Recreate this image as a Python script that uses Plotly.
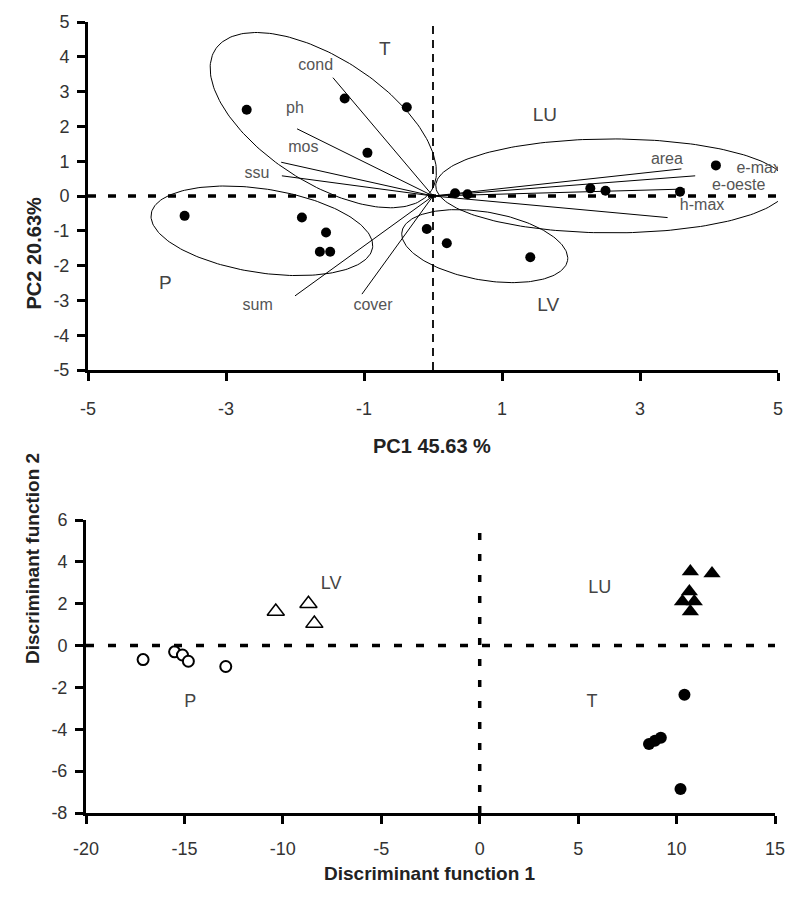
import numpy as np
import plotly.graph_objects as go

# ---------------- PCA (top) data ----------------
pca_T_x = [-2.7, -1.28, -0.95, -0.38]
pca_T_y = [2.48, 2.8, 1.24, 2.55]
pca_P_x = [-3.6, -1.9, -1.55, -1.64, -1.49]
pca_P_y = [-0.57, -0.62, -1.05, -1.6, -1.6]
pca_LV_x = [-0.09, 0.2, 1.41]
pca_LV_y = [-0.95, -1.36, -1.76]
pca_LU_x = [0.32, 0.5, 2.28, 2.5, 3.58, 4.1]
pca_LU_y = [0.08, 0.05, 0.22, 0.15, 0.12, 0.88]

load_names = ["cond", "ph", "mos", "ssu", "sum", "cover", "area", "e-max", "e-oeste", "h-max"]
load_x = [-1.45, -1.97, -2.2, -2.19, -2.0, -1.03, 3.6, 3.8, 3.65, 3.4]
load_y = [3.4, 1.93, 0.97, 0.58, -2.87, -2.82, 0.78, 0.58, 0.2, -0.62]
load_lab_x = [-1.7, -2.0, -1.88, -2.55, -2.54, -0.87, 3.39, 4.72, 4.43, 3.9]
load_lab_y = [3.74, 2.5, 1.38, 0.63, -3.16, -3.16, 1.03, 0.78, 0.29, -0.29]

group_names = ["T", "LU", "P", "LV"]
group_lab_x = [-0.7, 1.62, -3.88, 1.67]
group_lab_y = [4.18, 2.3, -2.53, -3.16]

# ellipses: center, two conjugate semi-axis vectors (data units)
ell_centers = [(-1.59, 2.18), (2.59, 0.29), (-2.48, -1.0), (0.75, -1.44)]
ell_u = [(1.565, -2.03), (2.55, 0.0), (1.604, -0.49), (1.2, -0.417)]
ell_v = [(-0.49, -1.49), (0.0, 1.35), (-0.093, -1.19), (-0.085, -0.963)]

pca_x_ticks = [-5, -3, -1, 1, 3, 5]
pca_y_ticks = [-5, -4, -3, -2, -1, 0, 1, 2, 3, 4, 5]

# ---------------- Discriminant (bottom) data ----------------
da_P_x = [-17.1, -15.5, -15.1, -14.8, -12.9]
da_P_y = [-0.67, -0.3, -0.45, -0.75, -1.0]
da_LV_x = [-10.36, -8.7, -8.4]
da_LV_y = [1.63, 2.0, 1.05]
da_LU_x = [10.7, 11.8, 10.65, 10.3, 10.9, 10.7]
da_LU_y = [3.54, 3.44, 2.58, 2.1, 2.1, 1.63]
da_T_x = [10.4, 8.6, 8.9, 9.2, 10.2]
da_T_y = [-2.35, -4.7, -4.55, -4.4, -6.85]

da_group_names = ["LV", "LU", "P", "T"]
da_group_x = [-7.55, 6.1, -14.7, 5.7]
da_group_y = [2.92, 2.73, -2.7, -2.73]

da_x_ticks = [-20, -15, -10, -5, 0, 5, 10, 15]
da_y_ticks = [-8, -6, -4, -2, 0, 2, 4, 6]

FONT = "Liberation Sans, Arial, sans-serif"

fig = go.Figure()

# loading lines
for nx, ny in zip(load_x, load_y):
    fig.add_trace(go.Scatter(x=[0, nx], y=[0, ny], mode="lines",
                             line=dict(color="black", width=1),
                             xaxis="x", yaxis="y", hoverinfo="skip"))

# ellipses
t = np.linspace(0, 2 * np.pi, 200)
for (cx, cy), (ux, uy), (vx, vy) in zip(ell_centers, ell_u, ell_v):
    ex = cx + ux * np.cos(t) + vx * np.sin(t)
    ey = cy + uy * np.cos(t) + vy * np.sin(t)
    fig.add_trace(go.Scatter(x=ex, y=ey, mode="lines",
                             line=dict(color="black", width=1),
                             xaxis="x", yaxis="y", hoverinfo="skip"))

# PCA points
for xs, ys in [(pca_T_x, pca_T_y), (pca_P_x, pca_P_y), (pca_LV_x, pca_LV_y), (pca_LU_x, pca_LU_y)]:
    fig.add_trace(go.Scatter(x=xs, y=ys, mode="markers",
                             marker=dict(color="black", size=10, symbol="circle"),
                             xaxis="x", yaxis="y"))

# loading labels
fig.add_trace(go.Scatter(x=load_lab_x, y=load_lab_y, mode="text", text=load_names,
                         textfont=dict(family=FONT, size=16, color="#555555"),
                         xaxis="x", yaxis="y"))
# group labels top
fig.add_trace(go.Scatter(x=group_lab_x, y=group_lab_y, mode="text", text=group_names,
                         textfont=dict(family=FONT, size=19, color="#444444"),
                         xaxis="x", yaxis="y"))

# DA points
fig.add_trace(go.Scatter(x=da_P_x, y=da_P_y, mode="markers",
                         marker=dict(color="white", size=11, symbol="circle",
                                     line=dict(color="black", width=2)),
                         xaxis="x2", yaxis="y2"))
fig.add_trace(go.Scatter(x=da_LV_x, y=da_LV_y, mode="markers",
                         marker=dict(color="white", size=15, symbol="triangle-up",
                                     line=dict(color="black", width=1.5)),
                         xaxis="x2", yaxis="y2"))
fig.add_trace(go.Scatter(x=da_LU_x, y=da_LU_y, mode="markers",
                         marker=dict(color="black", size=15, symbol="triangle-up"),
                         xaxis="x2", yaxis="y2"))
fig.add_trace(go.Scatter(x=da_T_x, y=da_T_y, mode="markers",
                         marker=dict(color="black", size=12, symbol="circle"),
                         xaxis="x2", yaxis="y2"))
fig.add_trace(go.Scatter(x=da_group_x, y=da_group_y, mode="text", text=da_group_names,
                         textfont=dict(family=FONT, size=18, color="#444444"),
                         xaxis="x2", yaxis="y2"))

# reference dashed lines
shapes = [
    dict(type="line", xref="x", yref="y", x0=-5, x1=5, y0=0, y1=0,
         line=dict(color="black", width=3.5, dash="8px,12px")),
    dict(type="line", xref="x", yref="y", x0=0, x1=0, y0=-5, y1=5,
         line=dict(color="black", width=1.8, dash="8px,6px")),
    dict(type="line", xref="x2", yref="y2", x0=-20, x1=15, y0=0, y1=0,
         line=dict(color="black", width=3.5, dash="8px,14px")),
    dict(type="line", xref="x2", yref="y2", x0=0, x1=0, y0=-8, y1=6,
         line=dict(color="black", width=3.5, dash="7px,14px")),
]

axis_common = dict(showline=True, linecolor="black", linewidth=3, ticks="outside",
                   ticklen=8, tickwidth=3, tickcolor="black", showgrid=False,
                   zeroline=False, automargin=False,
                   tickfont=dict(family=FONT, size=18, color="#333333"))


def lbl(vals):
    return [str(v) for v in vals]


fig.update_layout(
    width=789, height=897,
    margin=dict(l=0, r=0, t=0, b=0, autoexpand=False),
    paper_bgcolor="white", plot_bgcolor="white",
    showlegend=False,
    shapes=shapes,
    xaxis=dict(domain=[88 / 789, 778 / 789], range=[-5, 5], tickvals=pca_x_ticks,
               ticktext=lbl(pca_x_ticks), anchor="y", ticklabelstandoff=12, **axis_common),
    yaxis=dict(domain=[1 - 370 / 897, 1 - 22 / 897], range=[-5, 5], tickvals=pca_y_ticks,
               ticktext=lbl(pca_y_ticks), anchor="x", ticklabelstandoff=4, **axis_common),
    xaxis2=dict(domain=[86 / 789, 775 / 789], range=[-20, 15], tickvals=da_x_ticks,
                ticktext=lbl(da_x_ticks), anchor="y2", ticklabelstandoff=9, **axis_common),
    yaxis2=dict(domain=[1 - 813 / 897, 1 - 520 / 897], range=[-8, 6], tickvals=da_y_ticks,
                ticktext=lbl(da_y_ticks), anchor="x2", ticklabelstandoff=4, **axis_common),
    annotations=[
        dict(text="<b>PC1 45.63 %</b>", xref="paper", yref="paper",
             x=432 / 789, y=1 - 446 / 897, showarrow=False,
             font=dict(family=FONT, size=20, color="#222222")),
        dict(text="<b>PC2 20.63%</b>", xref="paper", yref="paper",
             x=21 / 789, y=1 - 195 / 897, showarrow=False, textangle=-90,
             font=dict(family=FONT, size=20, color="#222222")),
        dict(text="<b>Discriminant function 1</b>", xref="paper", yref="paper",
             x=430 / 789, y=1 - 886 / 897, showarrow=False,
             font=dict(family=FONT, size=19, color="#222222")),
        dict(text="<b>Discriminant function 2</b>", xref="paper", yref="paper",
             x=20 / 789, y=1 - 666 / 897, showarrow=False, textangle=-90,
             font=dict(family=FONT, size=19, color="#222222")),
    ],
)

fig.write_html("out.html")
